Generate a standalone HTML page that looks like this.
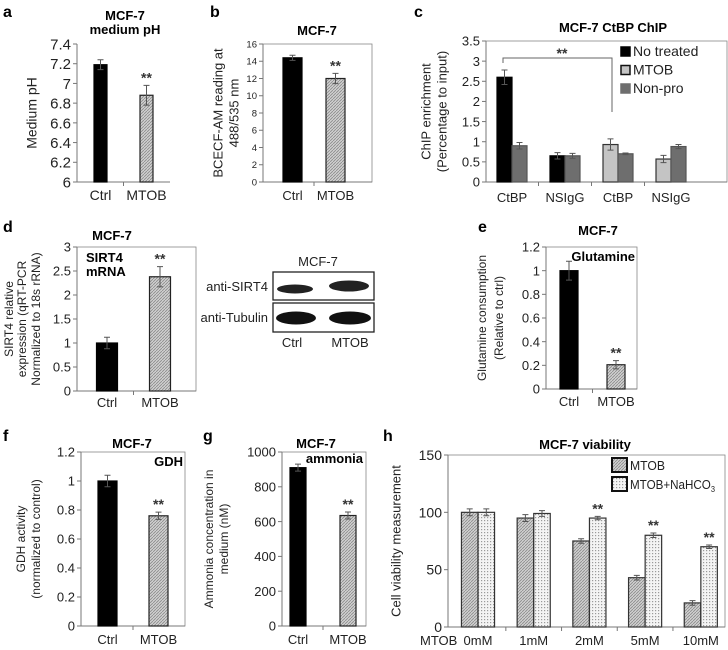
<!DOCTYPE html>
<html><head><meta charset="utf-8"><style>
html,body{margin:0;padding:0;background:#fff;}
svg{display:block;font-family:"Liberation Sans",sans-serif;}
.t{font-family:"Liberation Sans Narrow","Liberation Sans",sans-serif;font-weight:bold;font-size:13px;}
</style></head><body>
<svg id="fig" width="728" height="650" viewBox="0 0 728 650" xmlns="http://www.w3.org/2000/svg">
<defs>
<pattern id="hatch" width="3" height="3" patternUnits="userSpaceOnUse"><rect width="3" height="3" fill="#d0d0d0"/><path d="M0,3 L3,0" stroke="#8a8a8a" stroke-width="0.8"/></pattern>
<pattern id="dots" width="3" height="3" patternUnits="userSpaceOnUse"><rect width="3" height="3" fill="#f4f4f4"/><rect x="1" y="1" width="1.2" height="1.2" fill="#9a9a9a"/></pattern>
</defs>
<g font-weight="bold" font-size="16">
<text x="3" y="17">a</text><text x="210" y="17">b</text><text x="414" y="17">c</text>
<text x="3" y="232">d</text><text x="478" y="232">e</text>
<text x="3" y="441">f</text><text x="203" y="441">g</text><text x="383" y="441">h</text>
</g>
<g id="blot">
<text x="318" y="266" font-size="13" text-anchor="middle" fill="#222">MCF-7</text>
<rect x="273" y="272" width="101" height="28" fill="#fff" stroke="#222" stroke-width="1.3"/>
<rect x="273" y="303" width="101" height="29" fill="#fff" stroke="#222" stroke-width="1.3"/>
<ellipse cx="295" cy="289" rx="18" ry="4.5" fill="#222"/>
<ellipse cx="349" cy="286" rx="20" ry="5.5" fill="#222"/>
<ellipse cx="296" cy="318" rx="20" ry="6.5" fill="#111"/>
<ellipse cx="350" cy="318" rx="21" ry="6.5" fill="#111"/>
<text x="268" y="291" font-size="13" text-anchor="end" fill="#222">anti-SIRT4</text>
<text x="268" y="322" font-size="13" text-anchor="end" fill="#222">anti-Tubulin</text>
<text x="292" y="347" font-size="13" text-anchor="middle" fill="#222">Ctrl</text>
<text x="350" y="347" font-size="13" text-anchor="middle" fill="#222">MTOB</text>
</g>
</svg>
<script>
// ---- data ----
const catsCtrl = ["Ctrl","MTOB"];
const aVals = [7.19, 6.88]; const aErr = [0.05, 0.10];
const aTicks = ["6","6.2","6.4","6.6","6.8","7","7.2","7.4"];
const bVals = [14.4, 12.0]; const bErr = [0.3, 0.6];
const bTicks = ["0","2","4","6","8","10","12","14","16"];
const cCats = ["CtBP","NSIgG","CtBP","NSIgG"];
const cPrimary = [2.6, 0.65, 0.93, 0.57]; const cPrimaryErr = [0.18, 0.08, 0.14, 0.09];
const cNonpro = [0.9, 0.65, 0.7, 0.88]; const cNonproErr = [0.08, 0.06, 0.02, 0.05];
const cTicks = ["0","0.5","1","1.5","2","2.5","3","3.5"];
const dVals = [1.0, 2.38]; const dErr = [0.12, 0.21];
const dTicks = ["0","0.5","1","1.5","2","2.5","3"];
const eVals = [1.0, 0.205]; const eErr = [0.08, 0.035];
const eTicks = ["0","0.2","0.4","0.6","0.8","1","1.2"];
const fVals = [1.0, 0.76]; const fErr = [0.04, 0.025];
const fTicks = ["0","0.2","0.4","0.6","0.8","1","1.2"];
const gVals = [910, 635]; const gErr = [20, 20];
const gTicks = ["0","200","400","600","800","1000"];
const hCats = ["0mM","1mM","2mM","5mM","10mM"];
const hMtob = [100, 95, 75, 43, 21]; const hMtobErr = [3, 3, 2, 2, 2];
const hNa = [100, 99, 95, 80, 70]; const hNaErr = [3, 2.5, 1.5, 2, 1.5];
const hTicks = ["0","50","100","150"];

const NS="http://www.w3.org/2000/svg";
const fig=document.getElementById('fig');
function mk(tag,attrs,parent,txt){const e=document.createElementNS(NS,tag);for(const k in attrs)e.setAttribute(k,attrs[k]);if(txt!=null)e.textContent=txt;(parent||fig).appendChild(e);return e;}

function chart(c){
  const g=mk('g',{});
  
  
  const lo=parseFloat(c.ticks[0]), hi=parseFloat(c.ticks[c.ticks.length-1]);
  const y=v=>c.yb-(v-lo)/(hi-lo)*(c.yb-c.yt);
  if(c.frame){const fr=mk('rect',{x:c.x0,y:c.yt,width:c.x1-c.x0,height:c.yb-c.yt,fill:'none',stroke:'#888','stroke-width':0.8},g);
    
    }
  const ax=mk('path',{d:`M${c.x0},${c.yt}V${c.yb}H${c.x1}`,stroke:'#777',fill:'none','stroke-width':1},g);
  
  
  c.ticks.forEach(t=>{const yy=y(parseFloat(t));
    mk('line',{x1:c.x0-4,x2:c.x0,y1:yy,y2:yy,stroke:'#777'},g);
    const tl=mk('text',{x:c.x0-6,y:yy+c.fs*0.36,'font-size':c.fs,'text-anchor':'end',fill:'#222'},g,t);
    
    });
  const n=c.cats.length;
  for(let i=0;i<=n;i++){const xx=c.start+(i-0.5)*c.band; if(i>0&&i<n) mk('line',{x1:xx,x2:xx,y1:c.yb,y2:c.yb+4,stroke:'#777'},g);}
  c.cats.forEach((cat,i)=>{const cx=c.start+i*c.band;
    const xl=mk('text',{x:cx,y:c.yb+c.xly,'font-size':c.xfs||c.fs,'text-anchor':'middle',fill:'#222'},g,cat);
    
    });
  c.series.forEach((s,si)=>{
    s.vals.forEach((v,i)=>{
      const cx=c.start+i*c.band+(s.off||0);
      const fill=s.fills?s.fills[i]:s.fill, stroke=s.strokes?s.strokes[i]:s.stroke;
      const b=mk('rect',{x:cx-c.bw/2,y:y(v),width:c.bw,height:c.yb-y(v),fill:fill,stroke:stroke||'none','stroke-width':1.2},g);
      
      
      if(s.err){const e=s.err[i];
        mk('path',{d:`M${cx},${y(v+e)}V${y(v-e)}M${cx-3},${y(v+e)}H${cx+3}M${cx-3},${y(v-e)}H${cx+3}`,stroke:'#555','stroke-width':1,fill:'none'},g);}
      if(s.star&&s.star[i]){const st=mk('text',{x:cx,y:y(v+(s.err?s.err[i]:0))-3,'font-size':14,'font-weight':'bold','text-anchor':'middle',fill:'#333'},g,'**');
        
        }
    });
  });
  const tt=mk('text',{x:c.tx,y:c.ty,'text-anchor':'middle',class:'t'},g,c.title);
  
  
  if(c.title2){mk('text',{x:c.tx,y:c.ty+14,'text-anchor':'middle',class:'t'},g,c.title2);}
  c.ylab.forEach((l,i)=>{const xx=c.ylx[i], yy=(c.yt+c.yb)/2;
    const t=mk('text',{x:xx,y:yy,'font-size':c.ylfs,'text-anchor':'middle',fill:'#222',transform:`rotate(-90 ${xx} ${yy})`,'dominant-baseline':'middle'},g,l);
    
    });
  return {g,y};
}
const blk='#000';
chart({name:'chart-a-medium-ph',short:'a',x0:77,x1:170,yt:44,yb:182,ticks:aTicks,fs:15,cats:catsCtrl,start:100.5,band:46,bw:13,xly:18,xfs:14,
  series:[{key:'val',vals:aVals,err:aErr,fills:[blk,'url(#hatch)'],strokes:[blk,'#222'],star:[0,1]}],
  title:'MCF-7',title2:'medium  pH',tx:125,ty:20,ylab:['Medium pH'],ylx:[33],ylfs:14});
chart({name:'chart-b-bcecf',short:'b',frame:1,x0:263,x1:372,yt:44,yb:182,ticks:bTicks,fs:9.5,xfs:13,cats:catsCtrl,start:292.5,band:43,bw:19,xly:18,
  series:[{key:'val',vals:bVals,err:bErr,fills:[blk,'url(#hatch)'],strokes:[blk,'#222'],star:[0,1]}],
  title:'MCF-7',tx:317,ty:35,ylab:['BCECF-AM reading at','488/535 nm'],ylx:[219,235],ylfs:13});
const C=chart({name:'chart-c-ctbp-chip',short:'c',frame:1,x0:486,x1:727,yt:41,yb:182,ticks:cTicks,fs:13,cats:cCats,start:512,band:53,bw:15,xly:20,xfs:13,
  series:[{key:'primary',vals:cPrimary,err:cPrimaryErr,off:-7.5,fills:[blk,blk,'#c4c4c4','#c4c4c4'],strokes:[blk,blk,'#333','#333']},
          {key:'nonpro',vals:cNonpro,err:cNonproErr,off:7.5,fill:'#6e6e6e',stroke:'#555'}],
  title:'MCF-7 CtBP ChIP',tx:613,ty:32,ylab:['ChIP enrichment','(Percentage to input)'],ylx:[427,443],ylfs:13});
(function(){const g=mk('g',{});
  
  
  mk('path',{d:'M503,63V58H612V112',stroke:'#666',fill:'none','stroke-width':1},g);
  mk('text',{x:562,y:58,'font-size':14,'font-weight':'bold','text-anchor':'middle',fill:'#333'},g,'**');
  const L=[['No treated',blk,blk],['MTOB','#c4c4c4','#111'],['Non-pro','#6e6e6e','#6e6e6e']];
  L.forEach((l,i)=>{const lg=mk('g',{});
    
    
    mk('rect',{x:621,y:47+i*18.5,width:9,height:9,fill:l[1],stroke:l[2],'stroke-width':1.5},lg);
    mk('text',{x:633,y:56+i*18.5,'font-size':14,fill:'#222'},lg,l[0]);});
})();
chart({name:'chart-d-sirt4-mrna',short:'d',frame:1,x0:77,x1:196,yt:247,yb:391,ticks:dTicks,fs:13,cats:catsCtrl,start:107,band:53,bw:21,xly:16,
  series:[{key:'val',vals:dVals,err:dErr,fills:[blk,'url(#hatch)'],strokes:[blk,'#222'],star:[0,1]}],
  title:'MCF-7',tx:112,ty:240,ylab:['SIRT4 relative','expression (qRT-PCR','Normalized to 18s rRNA)'],ylx:[10,23,37],ylfs:12});
mk('text',{x:86,y:262,class:'t'},null,'SIRT4');
mk('text',{x:86,y:276,class:'t'},null,'mRNA');
chart({name:'chart-e-glutamine',short:'e',frame:1,x0:546,x1:637,yt:247,yb:389,ticks:eTicks,fs:13,cats:catsCtrl,start:569,band:47,bw:18,xly:17,
  series:[{key:'val',vals:eVals,err:eErr,fills:[blk,'url(#hatch)'],strokes:[blk,'#222'],star:[0,1]}],
  title:'MCF-7',tx:598,ty:235,ylab:['Glutamine consumption','(Relative to ctrl)'],ylx:[483,500],ylfs:12});
mk('text',{x:635,y:261,class:'t','text-anchor':'end'},null,'Glutamine');
chart({name:'chart-f-gdh',short:'f',frame:1,x0:81,x1:185,yt:452,yb:626,ticks:fTicks,fs:13,cats:catsCtrl,start:107.5,band:51,bw:19,xly:18,
  series:[{key:'val',vals:fVals,err:fErr,fills:[blk,'url(#hatch)'],strokes:[blk,'#222'],star:[0,1]}],
  title:'MCF-7',tx:132,ty:448,ylab:['GDH activity','(normalized to control)'],ylx:[22,37],ylfs:12});
mk('text',{x:183,y:466,class:'t','text-anchor':'end'},null,'GDH');
chart({name:'chart-g-ammonia',short:'g',frame:1,x0:282,x1:366,yt:452,yb:626,ticks:gTicks,fs:13,cats:catsCtrl,start:298,band:50,bw:16,xly:18,
  series:[{key:'val',vals:gVals,err:gErr,fills:[blk,'url(#hatch)'],strokes:[blk,'#222'],star:[0,1]}],
  title:'MCF-7',tx:316,ty:448,ylab:['Ammonia concentration in','medium (nM)'],ylx:[210,225],ylfs:12});
mk('text',{x:363,y:463,class:'t','text-anchor':'end'},null,'ammonia');
chart({name:'chart-h-viability',short:'h',frame:1,x0:448,x1:725,yt:455,yb:627,ticks:hTicks,fs:14,cats:hCats,start:478,band:55.7,bw:16.5,xly:18,xfs:13,
  series:[{key:'mtob',vals:hMtob,err:hMtobErr,off:-8.3,fill:'url(#hatch)',stroke:'#333'},
          {key:'nahco3',vals:hNa,err:hNaErr,off:8.3,fill:'url(#dots)',stroke:'#333',star:[0,0,1,1,1]}],
  title:'MCF-7 viability',tx:585,ty:449,ylab:['Cell viability measurement'],ylx:[397],ylfs:13});
(function(){const t=mk('text',{x:420,y:645,'font-size':13,fill:'#222'},null,'MTOB');
  
  
  const L=[['MTOB','url(#hatch)'],['MTOB+NaHCO','url(#dots)']];
  L.forEach((l,i)=>{const lg=mk('g',{});
    
    
    mk('rect',{x:612,y:458+i*19,width:15,height:14,fill:l[1],stroke:'#111','stroke-width':2},lg);
    const tx=mk('text',{x:630,y:470+i*19,'font-size':12.5,fill:'#222','textLength':i==1?85:35,'lengthAdjust':'spacingAndGlyphs'},lg,l[0]);
    if(i==1){const s=mk('tspan',{'font-size':8,dy:3},tx,'3');}
  });
})();
</script>
</body></html>
